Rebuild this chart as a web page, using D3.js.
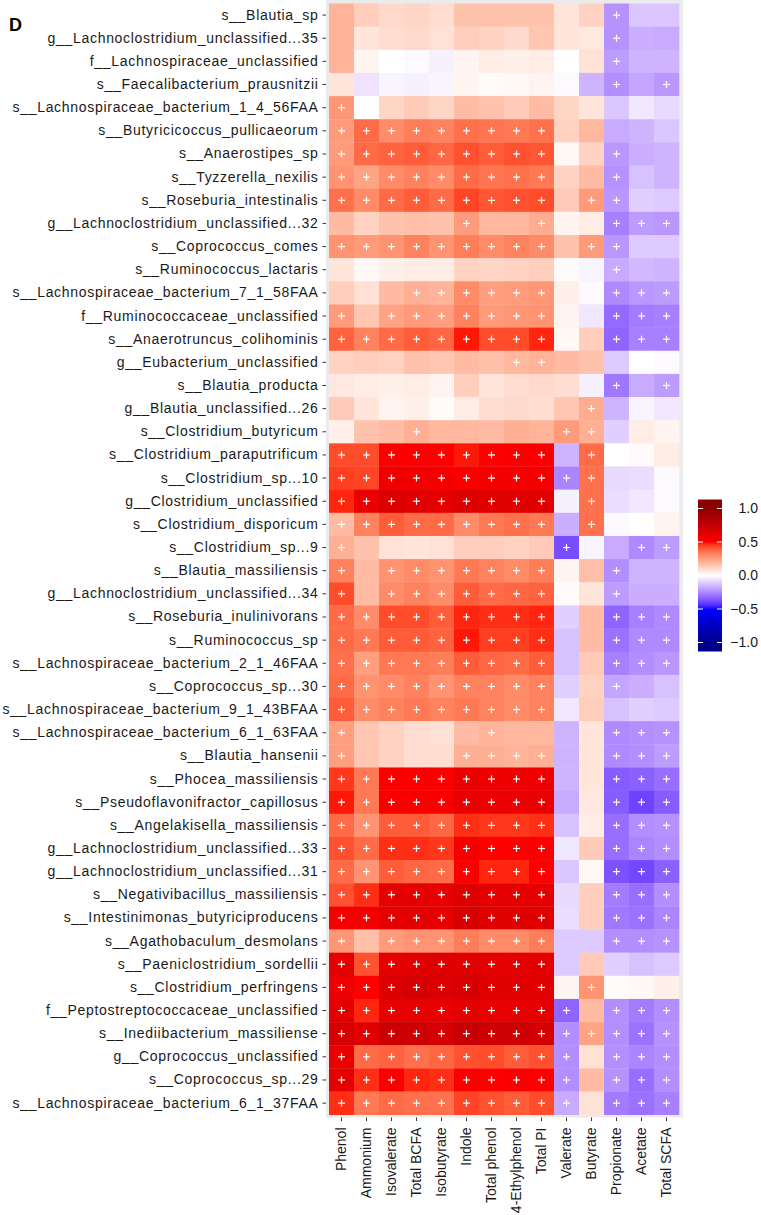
<!DOCTYPE html>
<html><head><meta charset="utf-8">
<script src="https://cdn.jsdelivr.net/npm/d3@7"></script>
<style>html,body{margin:0;padding:0;background:#fff;}svg{display:block;}</style>
</head><body>
<svg id="chart" width="761" height="1215"></svg>
<script>
const taxa = [
"s__Blautia_sp","g__Lachnoclostridium_unclassified...35","f__Lachnospiraceae_unclassified","s__Faecalibacterium_prausnitzii",
"s__Lachnospiraceae_bacterium_1_4_56FAA","s__Butyricicoccus_pullicaeorum","s__Anaerostipes_sp","s__Tyzzerella_nexilis",
"s__Roseburia_intestinalis","g__Lachnoclostridium_unclassified...32","s__Coprococcus_comes","s__Ruminococcus_lactaris",
"s__Lachnospiraceae_bacterium_7_1_58FAA","f__Ruminococcaceae_unclassified","s__Anaerotruncus_colihominis","g__Eubacterium_unclassified",
"s__Blautia_producta","g__Blautia_unclassified...26","s__Clostridium_butyricum","s__Clostridium_paraputrificum",
"s__Clostridium_sp...10","g__Clostridium_unclassified","s__Clostridium_disporicum","s__Clostridium_sp...9",
"s__Blautia_massiliensis","g__Lachnoclostridium_unclassified...34","s__Roseburia_inulinivorans","s__Ruminococcus_sp",
"s__Lachnospiraceae_bacterium_2_1_46FAA","s__Coprococcus_sp...30","s__Lachnospiraceae_bacterium_9_1_43BFAA","s__Lachnospiraceae_bacterium_6_1_63FAA",
"s__Blautia_hansenii","s__Phocea_massiliensis","s__Pseudoflavonifractor_capillosus","s__Angelakisella_massiliensis",
"g__Lachnoclostridium_unclassified...33","g__Lachnoclostridium_unclassified...31","s__Negativibacillus_massiliensis","s__Intestinimonas_butyriciproducens",
"s__Agathobaculum_desmolans","s__Paeniclostridium_sordellii","s__Clostridium_perfringens","f__Peptostreptococcaceae_unclassified",
"s__Inediibacterium_massiliense","g__Coprococcus_unclassified","s__Coprococcus_sp...29","s__Lachnospiraceae_bacterium_6_1_37FAA"
];
const metabolites = ["Phenol","Ammonium","Isovalerate","Total BCFA","Isobutyrate","Indole","Total phenol","4-Ethylphenol","Total PI","Valerate","Butyrate","Propionate","Acetate","Total SCFA"];
const legendTicks = [1.0, 0.5, 0.0, -0.5, -1.0];

const corr = [
[0.20,0.13,0.10,0.11,0.09,0.16,0.16,0.16,0.16,0.07,0.12,-0.23,-0.12,-0.12],
[0.20,0.07,0.09,0.10,0.08,0.13,0.12,0.10,0.15,0.07,0.06,-0.23,-0.17,-0.18],
[0.20,0.03,0.00,-0.01,-0.03,0.03,0.05,0.04,0.05,0.00,0.08,-0.21,-0.16,-0.16],
[0.07,-0.06,-0.02,-0.03,-0.02,0.03,0.01,0.02,0.03,-0.01,-0.16,-0.24,-0.19,-0.22],
[0.27,0.00,0.11,0.14,0.11,0.18,0.16,0.14,0.18,0.11,0.07,-0.12,-0.05,-0.08],
[0.26,0.37,0.30,0.33,0.32,0.36,0.35,0.34,0.36,0.12,0.19,-0.18,-0.16,-0.12],
[0.26,0.37,0.39,0.40,0.38,0.42,0.40,0.42,0.41,0.02,0.12,-0.22,-0.17,-0.16],
[0.28,0.24,0.30,0.32,0.30,0.37,0.35,0.36,0.34,0.12,0.18,-0.23,-0.13,-0.16],
[0.36,0.30,0.37,0.40,0.37,0.44,0.41,0.42,0.43,0.14,0.26,-0.22,-0.10,-0.11],
[0.18,0.12,0.16,0.17,0.16,0.26,0.19,0.19,0.22,0.03,0.05,-0.27,-0.21,-0.22],
[0.28,0.26,0.28,0.32,0.28,0.33,0.30,0.32,0.30,0.16,0.26,-0.22,-0.11,-0.11],
[0.07,0.02,0.04,0.05,0.05,0.12,0.11,0.12,0.13,0.01,-0.02,-0.18,-0.15,-0.16],
[0.13,0.08,0.18,0.21,0.20,0.30,0.25,0.26,0.27,0.04,-0.01,-0.25,-0.22,-0.21],
[0.26,0.15,0.24,0.26,0.25,0.32,0.26,0.27,0.28,0.03,-0.05,-0.32,-0.28,-0.27],
[0.39,0.32,0.37,0.40,0.38,0.49,0.43,0.43,0.48,0.02,0.13,-0.33,-0.27,-0.27],
[0.12,0.13,0.12,0.16,0.15,0.18,0.17,0.19,0.20,0.18,0.16,-0.11,0.00,-0.01],
[0.06,0.05,0.04,0.05,0.03,0.13,0.07,0.09,0.10,0.09,-0.03,-0.29,-0.18,-0.21],
[0.14,0.07,0.03,0.04,0.01,0.05,0.09,0.10,0.09,0.15,0.22,-0.16,-0.02,-0.05],
[0.04,0.16,0.18,0.21,0.19,0.19,0.18,0.21,0.20,0.26,0.21,-0.10,0.05,0.03],
[0.43,0.43,0.52,0.52,0.50,0.49,0.51,0.52,0.52,-0.16,0.37,0.00,0.01,0.05],
[0.45,0.44,0.57,0.56,0.55,0.52,0.55,0.54,0.54,-0.26,0.36,-0.08,-0.07,-0.01],
[0.48,0.59,0.64,0.63,0.61,0.64,0.63,0.63,0.63,-0.03,0.36,-0.07,-0.05,-0.01],
[0.18,0.32,0.40,0.37,0.37,0.30,0.34,0.36,0.34,-0.17,0.36,-0.01,0.00,0.03],
[0.21,0.16,0.08,0.07,0.08,0.13,0.13,0.12,0.14,-0.38,-0.02,-0.18,-0.25,-0.21],
[0.32,0.18,0.28,0.30,0.28,0.34,0.32,0.30,0.33,0.03,0.17,-0.24,-0.16,-0.16],
[0.43,0.18,0.30,0.32,0.30,0.40,0.37,0.38,0.39,0.01,0.07,-0.21,-0.17,-0.17],
[0.37,0.30,0.43,0.43,0.40,0.48,0.47,0.47,0.48,-0.10,0.18,-0.33,-0.27,-0.25],
[0.37,0.34,0.40,0.40,0.39,0.49,0.45,0.45,0.47,-0.13,0.18,-0.30,-0.25,-0.25],
[0.36,0.25,0.34,0.34,0.33,0.40,0.38,0.37,0.40,-0.13,0.14,-0.27,-0.24,-0.22],
[0.37,0.28,0.30,0.32,0.28,0.32,0.32,0.30,0.32,-0.10,0.12,-0.19,-0.17,-0.13],
[0.40,0.30,0.32,0.34,0.32,0.34,0.32,0.30,0.32,-0.05,0.13,-0.13,-0.10,-0.11],
[0.25,0.15,0.12,0.09,0.08,0.18,0.20,0.19,0.19,-0.16,0.07,-0.25,-0.24,-0.23],
[0.25,0.15,0.12,0.09,0.09,0.21,0.21,0.20,0.21,-0.16,0.07,-0.25,-0.24,-0.21],
[0.46,0.34,0.52,0.52,0.52,0.59,0.57,0.57,0.57,-0.16,0.07,-0.35,-0.34,-0.31],
[0.49,0.34,0.53,0.53,0.53,0.59,0.58,0.58,0.59,-0.18,0.06,-0.35,-0.40,-0.35],
[0.37,0.28,0.40,0.40,0.38,0.47,0.46,0.46,0.47,-0.13,0.05,-0.31,-0.24,-0.23],
[0.42,0.37,0.47,0.47,0.46,0.54,0.50,0.50,0.52,-0.05,0.14,-0.31,-0.26,-0.24],
[0.37,0.28,0.40,0.38,0.37,0.52,0.48,0.48,0.52,-0.12,0.02,-0.37,-0.39,-0.34],
[0.42,0.47,0.61,0.61,0.60,0.64,0.61,0.61,0.61,-0.08,0.13,-0.28,-0.31,-0.24],
[0.54,0.55,0.61,0.61,0.60,0.67,0.63,0.63,0.63,-0.07,0.13,-0.29,-0.30,-0.26],
[0.27,0.17,0.26,0.28,0.28,0.33,0.30,0.30,0.33,-0.11,-0.11,-0.24,-0.24,-0.23],
[0.61,0.42,0.61,0.63,0.64,0.63,0.61,0.61,0.61,-0.11,0.14,-0.10,-0.13,-0.11],
[0.58,0.50,0.65,0.68,0.65,0.67,0.63,0.63,0.63,0.03,0.28,0.01,0.02,0.04],
[0.61,0.48,0.60,0.60,0.59,0.61,0.60,0.60,0.61,-0.33,0.18,-0.24,-0.28,-0.24],
[0.67,0.63,0.72,0.70,0.68,0.74,0.70,0.70,0.68,-0.24,0.24,-0.24,-0.30,-0.23],
[0.59,0.37,0.39,0.36,0.38,0.42,0.43,0.40,0.42,-0.24,0.08,-0.24,-0.26,-0.24],
[0.61,0.47,0.52,0.48,0.47,0.52,0.50,0.52,0.51,-0.24,0.18,-0.23,-0.31,-0.24],
[0.47,0.34,0.37,0.36,0.36,0.44,0.42,0.40,0.43,-0.18,0.08,-0.28,-0.30,-0.27]
];

const signif = [
"...........+..","...........+..","...........+..","...........+.+",
"+.............","+++++++++.....","+++++++++..+..","+++++++++..+..",
"+++++++++.++..",".....+..+..+++","+++++++++.++..","...........+..",
"...++++++..+++","+.+++++++..+++","+++++++++..+++",".......++.....",
"...........+.+","..........+...","...+.....++...","+++++++++.+...",
"+++++++++++...","+++++++++.+...","+++++++++.+...","+........+..++",
"+.+++++++..+..","+.+++++++..+..","+++++++++..+++","+++++++++..+++",
"+++++++++..+++","+++++++++..+..","+++++++++.....","+.....+....+++",
"+....++++..+++","+++++++++..+++","+++++++++..+++","+++++++++..+++",
"+++++++++..+++","+++++++++..+++","+++++++++..+++","+++++++++..+++",
"+.+++++++..+++","+++++++++.....","+++++++++.+...","++++++++++.+++",
"++++++++++++++","++++++++++.+++","++++++++++.+++","++++++++++.+++"
];

const FONT = "'Liberation Sans', Arial, sans-serif";
const svg = d3.select("#chart");

const x = d3.scaleBand().domain(metabolites).range([329, 679]).padding(0);
const y = d3.scaleBand().domain(taxa).range([3.5, 1114.7]).padding(0);
const color = d3.scaleLinear()
  .domain([-1, -0.5, 0, 0.5, 1])
  .range(["#00008B", "#0000FF", "#FFFFFF", "#FF0000", "#8B0000"])
  .interpolate(d3.interpolateLab)
  .clamp(true);

// panel background
svg.append("rect").attr("x", 326).attr("y", 0).attr("width", 357).attr("height", 1117.5).attr("fill", "#EBEBEB");

const cells = [];
taxa.forEach((t, i) => metabolites.forEach((m, j) => cells.push({t, m, v: corr[i][j], s: signif[i][j] === "+"})));

svg.append("g").selectAll("rect").data(cells).join("rect")
  .attr("x", d => x(d.m)).attr("y", d => y(d.t))
  .attr("width", x.bandwidth() + 0.3).attr("height", y.bandwidth() + 0.3)
  .attr("fill", d => color(d.v));

const plus = svg.append("g").attr("stroke", "#fff").attr("stroke-width", 1.2);
cells.filter(d => d.s).forEach(d => {
  const cx = x(d.m) + x.bandwidth() / 2, cy = y(d.t) + y.bandwidth() / 2;
  plus.append("line").attr("x1", cx - 3.5).attr("x2", cx + 3.5).attr("y1", cy).attr("y2", cy);
  plus.append("line").attr("x1", cx).attr("x2", cx).attr("y1", cy - 3.5).attr("y2", cy + 3.5);
});

// y axis
const yAxis = svg.append("g").attr("transform", "translate(326,0)")
  .call(d3.axisLeft(y).tickSize(3.5).tickPadding(4));
yAxis.select(".domain").remove();
yAxis.selectAll("line").attr("stroke", "#333");
yAxis.selectAll("text").attr("font-family", FONT).attr("font-size", "14px")
  .attr("letter-spacing", "0.7px").attr("fill", "#1a1a1a");

// x axis
const xAxis = svg.append("g").attr("transform", "translate(0,1117.5)")
  .call(d3.axisBottom(x).tickSize(3.5).tickPadding(0));
xAxis.select(".domain").remove();
xAxis.selectAll("line").attr("stroke", "#333");
xAxis.selectAll("text")
  .attr("font-family", FONT).attr("font-size", "14px").attr("fill", "#1a1a1a")
  .attr("transform", "translate(0,10) rotate(-90)")
  .attr("text-anchor", "end").attr("x", 0).attr("y", 0).attr("dy", "0.35em");

// panel label
svg.append("text").attr("x", 9).attr("y", 31).text("D")
  .attr("font-family", FONT).attr("font-weight", "bold").attr("font-size", "18px").attr("fill", "#000");

// legend
const ly = d3.scaleLinear().domain([1, -1]).range([508.5, 642.5]);
const defs = svg.append("defs");
const grad = defs.append("linearGradient").attr("id", "lg").attr("x1", 0).attr("x2", 0).attr("y1", 0).attr("y2", 1);
const barTop = 499.5, barBot = 651.5;
d3.range(0, 41).forEach(k => {
  const yy = barTop + (barBot - barTop) * k / 40;
  grad.append("stop").attr("offset", (k / 40)).attr("stop-color", color(ly.invert(yy)));
});
svg.append("rect").attr("x", 698).attr("y", barTop).attr("width", 24).attr("height", barBot - barTop).attr("fill", "url(#lg)");
const lg = svg.append("g");
legendTicks.forEach(v => {
  lg.append("line").attr("x1", 698).attr("x2", 703).attr("y1", ly(v)).attr("y2", ly(v)).attr("stroke", "#fff").attr("stroke-width", 1);
  lg.append("line").attr("x1", 717).attr("x2", 722).attr("y1", ly(v)).attr("y2", ly(v)).attr("stroke", "#fff").attr("stroke-width", 1);
  lg.append("text").attr("x", 758).attr("y", ly(v)).attr("dy", "0.35em").attr("text-anchor", "end")
    .attr("font-family", FONT).attr("font-size", "14px").attr("fill", "#1a1a1a").text(d3.format(".1f")(v));
});
</script>
</body></html>
